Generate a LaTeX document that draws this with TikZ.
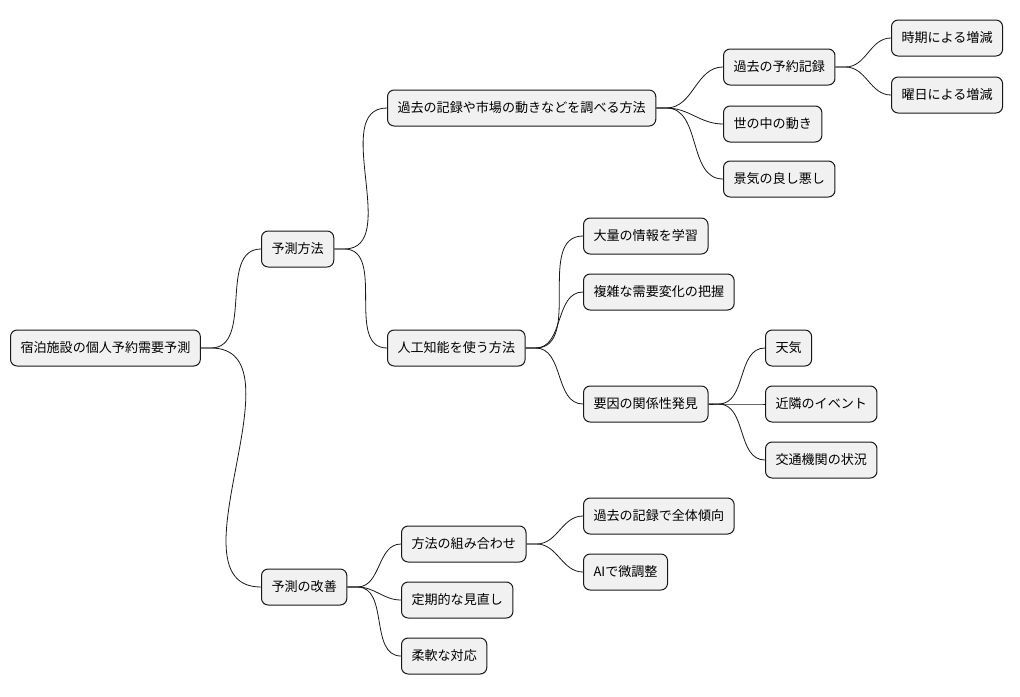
\documentclass[tikz,border=0pt]{standalone}
\usepackage{fontspec}
\setmainfont{Noto Sans CJK JP}
\definecolor{boxfill}{HTML}{F1F1F1}
\definecolor{boxline}{HTML}{181818}
\tikzset{every picture/.style={line width=0.75pt}}
\tikzset{
  topic/.style={draw=boxline, fill=boxfill, rounded corners=5pt, anchor=west,
    minimum height=27pt, inner xsep=7.5pt, font=\fontsize{9.8}{12}\selectfont},
  branch/.style={draw=boxline, line width=0.6pt}
}
\begin{document}
\begin{tikzpicture}[x=0.75pt,y=0.75pt,yscale=-1,xscale=1]
    \useasboundingbox (0,0) rectangle (1020,696);

    % Root
    \node[topic] (root) at (10,348) {宿泊施設の個人予約需要予測};

    % Level 1
    \node[topic] (method) at (261,249) {予測方法};
    \node[topic] (improve) at (261,587) {予測の改善};

    % Level 2
    \node[topic] (record) at (387,108) {過去の記録や市場の動きなどを調べる方法};
    \node[topic] (ai) at (387,348) {人工知能を使う方法};
    \node[topic] (combine) at (401,544) {方法の組み合わせ};
    \node[topic] (review) at (401,600) {定期的な見直し};
    \node[topic] (flex) at (401,656) {柔軟な対応};

    % Level 3
    \node[topic] (past) at (723,67) {過去の予約記録};
    \node[topic] (world) at (723,124) {世の中の動き};
    \node[topic] (economy) at (723,179) {景気の良し悪し};
    \node[topic] (learn) at (583,236) {大量の情報を学習};
    \node[topic] (grasp) at (583,292) {複雑な需要変化の把握};
    \node[topic] (factor) at (583,404) {要因の関係性発見};
    \node[topic] (trend) at (583,516) {過去の記録で全体傾向};
    \node[topic] (tune) at (583,572) {AIで微調整};

    % Level 4
    \node[topic] (season) at (891,38) {時期による増減};
    \node[topic] (weekday) at (891,95) {曜日による増減};
    \node[topic] (weather) at (765,348) {天気};
    \node[topic] (event) at (765,404) {近隣のイベント};
    \node[topic] (traffic) at (765,460) {交通機関の状況};

    % Connectors
    \foreach \p/\c in {root/method, root/improve, method/record, method/ai,
        record/past, record/world, record/economy, past/season, past/weekday,
        ai/learn, ai/grasp, ai/factor, factor/weather, factor/event, factor/traffic,
        improve/combine, improve/review, improve/flex, combine/trend, combine/tune}
      \draw[branch] (\p.east) -- ++(10,0) to[out=0,in=180] (\c.west);
\end{tikzpicture}
\end{document}
